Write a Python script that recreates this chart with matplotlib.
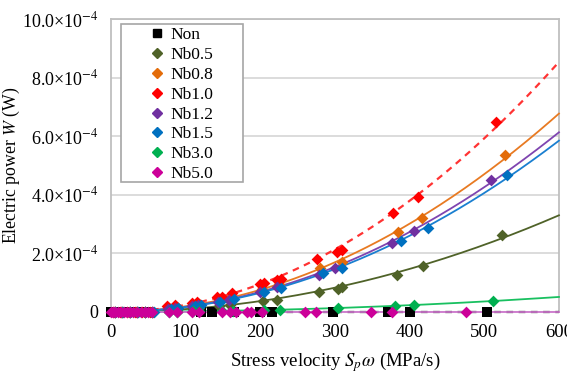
import numpy as np
import matplotlib
matplotlib.use("Agg")
import matplotlib.pyplot as plt
from matplotlib.patches import Rectangle

plt.rcParams['font.family'] = ['Liberation Serif', 'DejaVu Serif']
plt.rcParams['mathtext.fontset'] = 'stix'

# electric power in units of 1e-4 W, stress velocity in MPa/s
zeros6 = [0, 0, 0, 0, 0, 0]

x_non = [0, 8, 15, 25, 40, 50, 120, 135, 165, 200, 215, 298, 371, 400, 503]
w_non = [0] * len(x_non)

x_nb05 = [5, 15, 25, 35, 45, 55, 78, 88, 110, 118, 145, 160, 204, 222, 278, 304, 310, 383, 418, 524]
w_nb05 = zeros6 + [0.05, 0.07, 0.11, 0.13, 0.19, 0.24, 0.37, 0.42, 0.67, 0.78, 0.86, 1.26, 1.57, 2.63]

x_nb08 = [4, 14, 24, 34, 46, 56, 78, 88, 110, 118, 145, 160, 202, 225, 280, 310, 385, 417, 528]
w_nb08 = zeros6 + [0.12, 0.15, 0.22, 0.26, 0.40, 0.48, 0.78, 0.96, 1.49, 1.71, 2.72, 3.20, 5.36]

x_nb10 = [3, 12, 22, 32, 42, 52, 75, 86, 108, 115, 142, 148, 162, 200, 205, 222, 228, 276, 303, 309, 378, 411, 516]
w_nb10 = zeros6 + [0.20, 0.23, 0.31, 0.35, 0.50, 0.52, 0.63, 0.95, 1.00, 1.08, 1.12, 1.80, 2.05, 2.12, 3.37, 3.94, 6.50]

x_nb12 = [5, 15, 25, 35, 45, 55, 76, 86, 108, 116, 143, 158, 200, 222, 278, 300, 376, 406, 509]
w_nb12 = zeros6 + [0.10, 0.13, 0.20, 0.23, 0.35, 0.42, 0.68, 0.84, 1.26, 1.49, 2.36, 2.76, 4.51]

x_nb15 = [6, 16, 26, 36, 46, 58, 80, 90, 112, 120, 146, 165, 205, 228, 284, 310, 389, 424, 531]
w_nb15 = zeros6 + [0.10, 0.13, 0.20, 0.23, 0.34, 0.44, 0.67, 0.83, 1.32, 1.49, 2.42, 2.85, 4.68]

x_nb30 = [5, 15, 25, 35, 45, 55, 78, 88, 110, 118, 148, 164, 205, 226, 304, 380, 406, 511]
w_nb30 = zeros6 + [0.01, 0.01, 0.02, 0.02, 0.03, 0.04, 0.05, 0.07, 0.14, 0.20, 0.23, 0.37]

x_nb50 = [0, 3, 6, 10, 14, 18, 22, 26, 30, 35, 40, 45, 50, 55, 78, 88, 108, 118, 148, 160,
          168, 182, 188, 202, 260, 275, 348, 376, 476]
w_nb50 = [0] * len(x_nb50)

labels = ['Non', 'Nb0.5', 'Nb0.8', 'Nb1.0', 'Nb1.2', 'Nb1.5', 'Nb3.0', 'Nb5.0']
xs = [x_non, x_nb05, x_nb08, x_nb10, x_nb12, x_nb15, x_nb30, x_nb50]
ws = [w_non, w_nb05, w_nb08, w_nb10, w_nb12, w_nb15, w_nb30, w_nb50]
colors = ['#000000', '#4f6228', '#e36c0a', '#ff0000', '#7030a0', '#0070c0', '#00b050', '#cc0099']
line_colors = ['#000000', '#4f6228', '#e87a22', '#ff3333', '#7f45b0', '#1a7fd0', '#19c060', '#cc77cc']
markers = ['s', 'D', 'D', 'D', 'D', 'D', 'D', 'D']
styles = ['--', '-', '-', '--', '-', '-', '-', '-']

fig = plt.figure(figsize=(5.67, 3.74), dpi=100)
ax = fig.add_axes([0.1958, 0.1663, 0.790, 0.782])

# quadratic trendlines through the origin, fitted to the points
xf = np.linspace(55, 600, 200)
for x, w, lc, ls in zip(xs, ws, line_colors, styles):
    x = np.array(x, float)
    w = np.array(w, float)
    a = np.sum(w * x ** 2) / np.sum(x ** 4)
    ax.plot(xf, a * xf ** 2, color=lc, ls=ls, lw=1.3 if ls == '-' else 1.6,
            dashes=(3, 2.5) if ls == '--' else (None, None), zorder=3, clip_on=False)

for x, w, c, m in zip(xs, ws, colors, markers):
    ax.scatter(x, w, marker=m, s=45 if m == 's' else 36, color=c,
               zorder=4, clip_on=False, linewidths=0)

ax.set_xlim(0, 600)
ax.set_ylim(0, 10)
ax.set_xticks(np.arange(0, 601, 100))
ax.set_yticks(np.arange(0, 10.1, 2))
ax.set_yticklabels(['0'] + ['%.1f×10$^{-4}$' % v for v in np.arange(2, 10.1, 2)])
ax.tick_params(length=0, labelsize=13.5)
ax.tick_params(axis='x', pad=9)
ax.tick_params(axis='y', labelsize=13, pad=9)
ax.grid(axis='y', color='#d9d9d9', lw=1.3)
ax.set_axisbelow(True)
for s in ax.spines.values():
    s.set_color('#bfbfbf')
    s.set_linewidth(1.3)
ax.spines['bottom'].set_visible(False)

ax.set_xlabel('Stress velocity $S_p\\omega$ (MPa/s)', fontsize=13.5, labelpad=6)
ax.set_ylabel('Electric power $W$ (W)', fontsize=12.8)
ax.yaxis.set_label_coords(-0.198, 0.5)

# legend box, drawn by hand in axes coordinates
ax.add_patch(Rectangle((0.0223, 0.4448), 0.2723, 0.5392, transform=ax.transAxes,
                       fill=True, facecolor='white', edgecolor='#a6a6a6', lw=1.2, zorder=5))
row_top = 0.953
row_step = 0.0679
for i, (c, m, lab) in enumerate(zip(colors, markers, labels)):
    yy = row_top - i * row_step
    ax.plot([0.1027], [yy], ls='none', marker=m, color=c, ms=5.5 if m == 's' else 5,
            transform=ax.transAxes, zorder=6, clip_on=False)
    ax.text(0.1317, yy, lab, transform=ax.transAxes, fontsize=12.5, va='center_baseline',
            ha='left', zorder=6)

fig.savefig('out.png', dpi=100)
